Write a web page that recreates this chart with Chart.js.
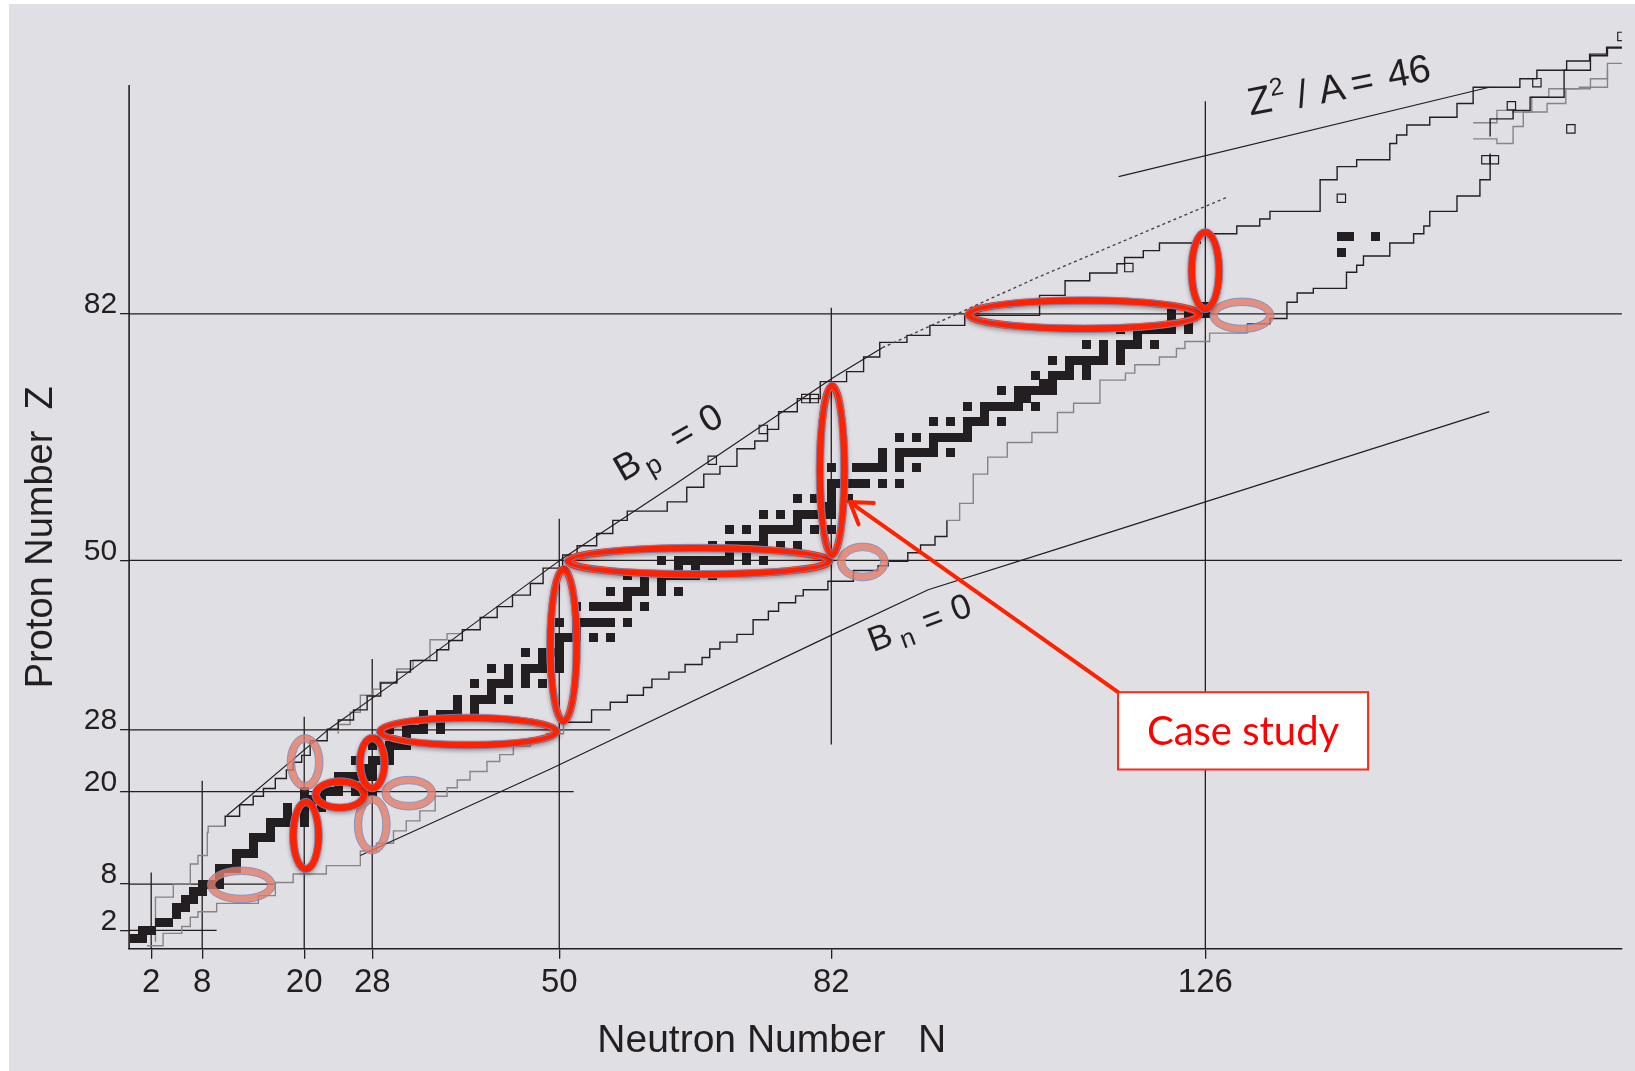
<!DOCTYPE html>
<html lang="en">
<head>
<meta charset="UTF-8">
<title>Chart of the nuclides - magic numbers</title>
<script src="https://cdn.jsdelivr.net/npm/chart.js"></script>
<style>
  html, body { margin: 0; padding: 0; background: #ffffff; overflow: hidden; }
  .wrap { position: relative; width: 1635px; height: 1071px; }
</style>
</head>
<body>
<div class="wrap"><canvas id="nuclideChart"></canvas></div>
<script>
// magic numbers and the extent of their guide lines
const magicN = [2, 8, 20, 28, 50, 82, 126];
const magicNTop = [9.5, 21.4, 29.7, 37.2, 55.4, 82.8, 109.6];
const magicNBottom = [-0.4, -0.4, -0.4, -0.4, -0.4, 26.1, -0.4];
const magicZ = [2, 8, 20, 28, 50, 82];
const magicZEnd = [9.7, 16.5, 51.7, 56, 175, 175];

// stable nuclei: proton number and the neutron numbers found for it
const stableZ = [
  1, 2, 3, 4, 5, 6, 7, 8, 9, 10,
  11, 12, 13, 14, 15, 16, 17, 18, 19, 20,
  21, 22, 23, 24, 25, 26, 27, 28, 29, 30,
  31, 32, 33, 34, 35, 36, 37, 38, 39, 40,
  41, 42, 44, 45, 46, 47, 48, 49, 50,
  51, 52, 53, 54, 55, 56, 57, 58, 59, 60,
  62, 63, 64, 65, 66, 67, 68, 69, 70,
  71, 72, 73, 74, 75, 76, 77, 78, 79, 80,
  81, 82, 83, 90, 92
];
const stableN = [
  [0, 1], [1, 2], [3, 4], [5], [5, 6], [6, 7], [7, 8], [8, 9, 10], [10], [10, 11, 12],
  [12], [12, 13, 14], [14], [14, 15, 16], [16], [16, 17, 18, 20], [18, 20], [18, 20, 22], [20, 21, 22], [20, 22, 23, 24, 26, 28],
  [24], [24, 25, 26, 27, 28], [27, 28], [26, 28, 29, 30], [30], [28, 30, 31, 32], [32], [30, 32, 33, 34, 36], [34, 36], [34, 36, 37, 38, 40],
  [38, 40], [38, 40, 41, 42, 44], [42], [40, 42, 43, 44, 46, 48], [44, 46], [42, 44, 46, 47, 48, 50], [48, 50], [46, 48, 49, 50], [50], [50, 51, 52, 54, 56],
  [52], [50, 52, 53, 54, 55, 56, 58], [52, 54, 55, 56, 57, 58, 60], [58], [56, 58, 59, 60, 62, 64], [60, 62], [58, 60, 62, 63, 64, 65, 66, 68], [64, 66], [62, 64, 65, 66, 67, 68, 69, 70, 72, 74],
  [70, 72], [68, 70, 71, 72, 73, 74, 76, 78], [74], [70, 72, 74, 75, 76, 77, 78, 80, 82], [78], [74, 76, 78, 79, 80, 81, 82], [81, 82], [78, 80, 82, 84], [82], [82, 83, 84, 85, 86, 88, 90],
  [82, 85, 86, 87, 88, 90, 92], [88, 90], [88, 90, 91, 92, 93, 94, 96], [94], [90, 92, 94, 95, 96, 97, 98], [98], [94, 96, 98, 99, 100, 102], [100], [98, 100, 101, 102, 103, 104, 106],
  [104, 105], [102, 104, 105, 106, 107, 108], [107, 108], [106, 108, 109, 110, 112], [110, 112], [108, 110, 111, 112, 113, 114, 116], [114, 116], [112, 114, 116, 117, 118, 120], [118], [116, 118, 119, 120, 121, 122, 124],
  [122, 124], [122, 124, 125, 126], [126], [142], [142, 143, 146]
];

// single open cells drawn as outlines
const openN = [68, 74, 79, 80, 117, 142, 159, 160, 162, 165, 169, 175];
const openZ = [63, 67, 71, 71, 88, 97, 102, 102, 109, 112, 106, 118];

// limits of known nuclei (stepped lines, [N, Z])
const protonEdge = [
  [2.5, 0.5], [4.6, 6.3], [6.6, 8], [7.5, 10.6], [8.6, 11.7], [8.7, 14.7], [10.7, 15.5], [12.4, 16.8], [14, 18.3], [15.2, 19.4],
  [16.6, 20.4], [17.9, 21.7], [18.7, 22.8], [19.7, 23.8], [20.7, 24.7], [22.7, 26.6], [24, 28.1], [25.8, 29.3], [27.4, 30.6], [29, 32.4],
  [30.9, 34.1], [32.5, 35.5], [35.6, 37], [37, 38.4], [38.6, 39.6], [40.7, 41], [42.7, 42.6], [44.5, 44], [46.6, 45.5], [48.1, 47],
  [50.4, 49], [52.1, 50.7], [54.4, 51.9], [56.3, 53.5], [58, 55.2], [62.7, 56.4], [65, 57.6], [67, 59.5], [68.9, 61.2], [70.9, 62.2],
  [73, 64.5], [74.5, 65.5], [75.8, 67], [78, 69.3], [80.7, 71], [83.8, 73.2], [85.8, 74.5], [87.7, 76.4], [90.9, 78.3], [93.6, 79.2],
  [97.7, 80.5], [106.5, 81.8], [109.5, 84.4], [112.4, 86.3], [115.6, 87.3], [116.5, 88.5], [118.7, 89.3], [120.6, 90.2], [125.4, 91.2], [129.7, 92.4],
  [132.4, 93.4], [133.6, 94.3], [139.5, 95.3], [141.5, 99.4], [143.8, 101.1], [147.7, 102], [148.5, 104.1], [149.7, 105.2], [152.4, 106.5], [155.6, 107.5],
  [157.5, 109.3], [159.5, 111.4], [163, 111.4], [165, 112.5], [168.5, 113.6], [171.2, 114.8], [173.2, 115.7], [175.5, 116.6]
];
const protonEdgeGrey = [
  [24, 27.5], [25.4, 28.7], [26.6, 30.3], [28.1, 32.5], [28.9, 33.3], [30.9, 34.2], [32.8, 35.9], [34.8, 37.1], [36.8, 39.7], [38.5, 40.5]
];
const neutronEdge = [
  [1.5, 0], [3.4, 1.6], [5.6, 2.5], [6.6, 3.7], [7.5, 4.4], [9.7, 5.5], [12.6, 5.5], [14.6, 6.5], [16.6, 8.2], [18.7, 9.3],
  [20.5, 9.3], [22.6, 10.4], [24.2, 10.4], [26.6, 12.3], [28.5, 13.3], [30.5, 14.9], [32, 16.2], [33.6, 17.5], [35.4, 19.4], [36.8, 20.5],
  [38, 21.5], [39.5, 22.6], [41.5, 23.9], [43, 24.8], [44.6, 25.9], [46.6, 26.9], [48.5, 27.5], [50.5, 29], [53.8, 30.6], [56, 31.6],
  [58, 32.5], [59.9, 33.5], [60.9, 34.6], [62.9, 35.5], [64.8, 36.5], [66.8, 37.4], [67.7, 38.5], [68.9, 39.4], [70.9, 40.4], [72.8, 42.3],
  [74.6, 43.4], [75.8, 44.5], [77.8, 45.4], [78.7, 46.2], [81.6, 47.3], [84.6, 48.7], [87.5, 49.3], [88.7, 49.9], [91, 51], [92.5, 52],
  [94.2, 53.1], [95.6, 55.2], [97.1, 57.4], [98.7, 61.2], [100.4, 63.4], [102.7, 65.3], [105.6, 66.6], [108.6, 69.2], [110.5, 70.4], [113.6, 73.4],
  [116.6, 74.3], [117.7, 75.4], [120.6, 76.4], [122.6, 77.5], [123.6, 78.4], [126.5, 79.5], [130.9, 80.7], [133.6, 81.4], [135.6, 83.5], [136.8, 84.7],
  [138.7, 85.3], [142.6, 87.4], [143.8, 88.3], [144.6, 89.5], [147.7, 91.2], [150.5, 92.4], [151.7, 93.4], [152.4, 95.3], [155.6, 97.3], [158.3, 99.4],
  [159.5, 102.8]
];
// the tangled edge of the heaviest known nuclei
const heavyEdgeGrey = [
  [157.5, 104.7], [160.3, 104.1], [162.2, 106.3], [163.4, 108.2], [166.2, 109.3], [168.4, 111.2], [171.3, 112.5], [173.3, 114.5], [176, 115.5]
];
const heavyEdgeDark = [
  [159.5, 105], [162.2, 107.3], [164.2, 108.4], [165.2, 110.1], [168.2, 110.1], [168.2, 112.5], [171.3, 113.6], [173.3, 115.5], [176, 116.5]
];
const heavyEdgeInner = [
  [157.5, 106.8], [160.3, 108.4], [162.2, 108.2], [164.4, 110.1], [166.4, 111.2], [170, 111.4], [173.3, 113.6]
];

// separation energy and fission lines
const bpSolid = [[10.9, 16.9], [23, 28.2], [30.9, 34.4], [50.3, 50.2], [63.8, 60], [82.2, 73.7], [88, 77.6]];
const bpDotted = [[88, 77.6], [106, 86.6], [128.7, 97.2]];
const bnLine = [[26.6, 11.7], [48.9, 22.9], [82.2, 40.4], [93.4, 46.2], [108.9, 51.6], [126, 57.6], [159.4, 69.3]];
const fissionLine = [[115.8, 99.8], [159.4, 111.4]];

// highlighted shells: centre N, centre Z, half width in N, half height in Z
const ringN = [12.6, 20.1, 32.3, 28.0, 85.7, 130.3, 20.2, 24.2, 28.0, 39.3, 50.5, 66.4, 82.1, 111.7, 126.0];
const ringZ = [7.9, 23.8, 19.8, 15.7, 49.8, 81.8, 14.3, 19.6, 23.7, 27.8, 39.0, 49.9, 61.7, 81.9, 87.6];
const ringRN = [3.55, 1.67, 2.73, 1.67, 2.55, 3.32, 1.49, 2.85, 1.44, 10.38, 1.55, 15.37, 1.44, 13.55, 1.61];
const ringRZ = [1.83, 3.11, 1.70, 3.31, 1.96, 1.76, 4.34, 1.70, 3.24, 1.76, 9.87, 1.70, 10.97, 1.83, 4.98];
const ringStrong = [false, false, false, false, false, false, true, true, true, true, true, true, true, true, true];

const ink = '#231f20';
const grey = '#868486';
const red = '#ff2200';

function pts(list) { return list.map(p => ({ x: p[0], y: p[1] })); }

const stablePoints = [];
stableZ.forEach((z, i) => stableN[i].forEach(n => stablePoints.push({ x: n, y: z })));
const openPoints = openN.map((n, i) => ({ x: n, y: openZ[i] }));

const cell = document.createElement('canvas');
cell.width = 9; cell.height = 9;
const cellCtx = cell.getContext('2d');
cellCtx.fillStyle = ink;
cellCtx.fillRect(0, 0, 9, 9);

function stepLine(list, mode, color, extra) {
  return Object.assign({
    data: pts(list), showLine: true, stepped: mode, borderColor: color, borderWidth: 1.4, pointRadius: 0, order: 4
  }, extra || {});
}

const datasets = [];
magicN.forEach((n, i) => datasets.push({
  data: [{ x: n, y: magicNBottom[i] }, { x: n, y: magicNTop[i] }],
  showLine: true, borderColor: ink, borderWidth: 1.3, pointRadius: 0, clip: false, order: 6
}));
magicZ.forEach((z, i) => datasets.push({
  data: [{ x: -0.6, y: z }, { x: magicZEnd[i], y: z }],
  showLine: true, borderColor: ink, borderWidth: 1.3, pointRadius: 0, clip: false, order: 6
}));
// y axis line (shorter than the plot area)
datasets.push({
  data: [{ x: -0.6, y: -0.4 }, { x: -0.6, y: 111.7 }],
  showLine: true, borderColor: ink, borderWidth: 1.6, pointRadius: 0, clip: false, order: 6
});
datasets.push(stepLine(protonEdge, 'after', ink, { segment: { borderColor: c => c.p0.parsed.x < 10.7 ? grey : ink } }));
datasets.push(stepLine(protonEdgeGrey, 'after', grey));
datasets.push(stepLine(neutronEdge, 'before', ink, {
  segment: { borderColor: c => (c.p0.parsed.x < 50 || (c.p0.parsed.x > 95 && c.p0.parsed.x < 127)) ? grey : ink }
}));
datasets.push(stepLine(heavyEdgeGrey, 'before', grey));
datasets.push(stepLine(heavyEdgeDark, 'after', ink));
datasets.push(stepLine(heavyEdgeInner, 'before', grey));
datasets.push({ data: pts(bpSolid), showLine: true, borderColor: ink, borderWidth: 1.2, pointRadius: 0, order: 3 });
datasets.push({ data: pts(bpDotted), showLine: true, borderColor: '#4a4647', borderWidth: 1.4, borderDash: [3, 3], pointRadius: 0, order: 3 });
datasets.push({ data: pts(bnLine), showLine: true, borderColor: ink, borderWidth: 1.2, pointRadius: 0, order: 3 });
datasets.push({ data: pts(fissionLine), showLine: true, borderColor: ink, borderWidth: 1.2, pointRadius: 0, order: 3 });
datasets.push({
  data: openPoints, pointStyle: 'rect', pointRadius: 5.9, borderColor: ink, borderWidth: 1.2,
  backgroundColor: 'rgba(0,0,0,0)', order: 2
});
datasets.push({ data: stablePoints, pointStyle: cell, pointRadius: 4, order: 1 });

// background: grey sheet with a thin white margin
const paper = {
  id: 'paper',
  beforeDraw(chart) {
    const c = chart.ctx;
    c.save();
    c.fillStyle = '#ffffff';
    c.fillRect(0, 0, chart.width, chart.height);
    c.fillStyle = '#e0dfe4';
    c.fillRect(9, 4, chart.width - 9, chart.height - 4);
    c.restore();
  }
};

function drawRing(ctx, cx, cy, rx, ry, strong) {
  const w = 7.5;
  ctx.save();
  if (strong) {
    ctx.shadowColor = 'rgba(0,0,0,0.35)';
    ctx.shadowBlur = 4;
    ctx.shadowOffsetY = 2;
  }
  ctx.beginPath();
  ctx.ellipse(cx, cy, rx, ry, 0, 0, Math.PI * 2);
  ctx.lineWidth = w;
  ctx.strokeStyle = strong ? red : 'rgba(228,124,104,0.8)';
  ctx.stroke();
  ctx.restore();
  ctx.save();
  ctx.lineWidth = 0.8;
  ctx.strokeStyle = '#6b8fcc';
  ctx.beginPath();
  ctx.ellipse(cx, cy, rx + w / 2, ry + w / 2, 0, 0, Math.PI * 2);
  ctx.stroke();
  ctx.beginPath();
  ctx.ellipse(cx, cy, Math.max(rx - w / 2, 1), Math.max(ry - w / 2, 1), 0, 0, Math.PI * 2);
  ctx.stroke();
  ctx.restore();
}

function rotatedText(ctx, x0, y0, deg, pieces) {
  ctx.save();
  ctx.translate(x0, y0);
  ctx.rotate(deg * Math.PI / 180);
  ctx.fillStyle = ink;
  ctx.textAlign = 'center';
  ctx.textBaseline = 'middle';
  pieces.forEach(p => {
    ctx.font = p[3] + 'px "Liberation Sans", Arial, sans-serif';
    ctx.fillText(p[0], p[1], p[2]);
  });
  ctx.restore();
}

const notes = {
  id: 'notes',
  afterDatasetsDraw(chart) {
    const ctx = chart.ctx;
    const xs = chart.scales.x, ys = chart.scales.y;
    const px = n => xs.getPixelForValue(n);
    const py = z => ys.getPixelForValue(z);

    // shell closure rings
    for (let i = 0; i < ringN.length; i++) {
      const cx = px(ringN[i]), cy = py(ringZ[i]);
      drawRing(ctx, cx, cy, px(ringN[i] + ringRN[i]) - cx, cy - py(ringZ[i] + ringRZ[i]), ringStrong[i]);
    }

    // curve labels
    rotatedText(ctx, px(58.12), py(62.08), -29.6, [['B', 0, 0, 37], ['p', 23, 12, 27], ['=', 63, 0, 37], ['0', 96, 0, 37]]);
    rotatedText(ctx, px(87.8), py(39.8), -20.3, [['B', 0, 0, 35], ['n', 25.5, 10, 26], ['=', 55.7, 1, 35], ['0', 86.4, 0, 35]]);
    rotatedText(ctx, px(132.43), py(109.4), -11, [['Z', 0, 0, 39], ['2', 19, -11, 25], ['/', 43, 2, 39], ['A', 73, 2, 39], ['=', 104, 1, 39], ['46', 152, 0, 39]]);

    // case study arrow and box
    const tipX = px(84.18), tipY = py(57.58);
    const bx0 = px(115.73), by0 = py(32.9), bx1 = px(145.14), by1 = py(22.87);
    ctx.save();
    ctx.strokeStyle = red;
    ctx.lineWidth = 4;
    ctx.lineCap = 'round';
    ctx.beginPath();
    ctx.moveTo(bx0, by0);
    ctx.lineTo(tipX, tipY);
    const ang = Math.atan2(by0 - tipY, bx0 - tipX);
    [-0.58, 0.58].forEach(d => {
      ctx.moveTo(tipX, tipY);
      ctx.lineTo(tipX + 24 * Math.cos(ang + d), tipY + 24 * Math.sin(ang + d));
    });
    ctx.stroke();
    ctx.fillStyle = '#ffffff';
    ctx.fillRect(bx0, by0, bx1 - bx0, by1 - by0);
    ctx.lineWidth = 2;
    ctx.strokeStyle = '#ff2a14';
    ctx.strokeRect(bx0, by0, bx1 - bx0, by1 - by0);
    ctx.fillStyle = '#ff0000';
    ctx.font = '40px Lato, "Open Sans", sans-serif';
    ctx.textAlign = 'center';
    ctx.textBaseline = 'middle';
    ctx.fillText('Case study', (bx0 + bx1) / 2, (by0 + by1) / 2 + 1);
    ctx.restore();

    // axis titles
    ctx.save();
    ctx.fillStyle = ink;
    ctx.textAlign = 'center';
    ctx.textBaseline = 'middle';
    ctx.font = '39px "Liberation Sans", Arial, sans-serif';
    ctx.fillText('Neutron Number   N', px(75.0), 1041);
    ctx.translate(42, py(53.0));
    ctx.rotate(-Math.PI / 2);
    ctx.font = '38px "Liberation Sans", Arial, sans-serif';
    ctx.fillText('Proton Number  Z', 0, 0);
    ctx.restore();
  }
};

const ctx = document.getElementById('nuclideChart').getContext('2d');
const nuclideChart = new Chart(ctx, {
  type: 'scatter',
  data: { datasets: datasets },
  options: {
    responsive: true,
    maintainAspectRatio: false,
    animation: false,
    events: [],
    layout: { padding: { left: 0, right: 13.1, top: 13.3, bottom: 0 } },
    plugins: { legend: { display: false }, tooltip: { enabled: false } },
    scales: {
      x: {
        type: 'linear', min: -0.6, max: 175,
        grid: { drawOnChartArea: false, drawTicks: true, tickLength: 10, color: ink, lineWidth: 1.3 },
        border: { display: true, color: ink, width: 1.6 },
        ticks: {
          autoSkip: false, maxRotation: 0, padding: 4, color: ink,
          font: { family: '"Liberation Sans Narrow", "Liberation Sans", Arial, sans-serif', size: 33 },
          callback: v => String(v)
        },
        afterBuildTicks: s => { s.ticks = magicN.map(v => ({ value: v })); },
        afterFit: s => { s.height = 122.2; }
      },
      y: {
        type: 'linear', min: -0.4, max: 120,
        grid: { drawOnChartArea: false, drawTicks: true, tickLength: 9, color: ink, lineWidth: 1.3 },
        border: { display: false },
        ticks: {
          autoSkip: false, padding: 3, labelOffset: -9, color: ink,
          font: { family: '"Liberation Sans", Arial, sans-serif', size: 30 },
          callback: v => String(v)
        },
        afterBuildTicks: s => { s.ticks = magicZ.map(v => ({ value: v })); },
        afterFit: s => { s.width = 129.1; }
      }
    }
  },
  plugins: [paper, notes]
});
</script>
</body>
</html>
